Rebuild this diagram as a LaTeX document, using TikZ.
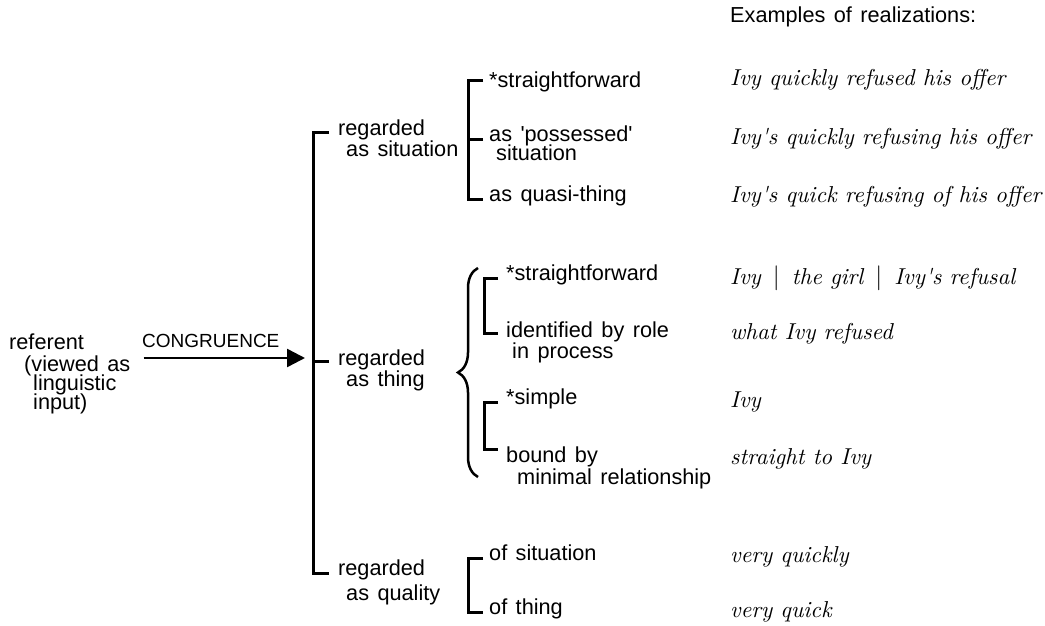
\documentclass[tikz,border=0pt]{standalone}
\usepackage{fontspec}
\newfontfamily\lab{Liberation Sans}[WordSpace=1.4]
\newfontfamily\exfont{lmroman10-italic.otf}
\usetikzlibrary{arrows.meta,decorations.pathreplacing,calc}

% stacked lines with a fixed baseline distance (first argument, in pt)
\newcommand\stk[2]{\vtop{\baselineskip=#1pt\lineskiplimit=-100pt\lineskip=0pt #2}}
\newcommand\lline[2][0]{\hbox{\kern#1pt #2}}

\begin{document}
\begin{tikzpicture}[x=1pt,y=-1pt,
  lbl/.style={anchor=mid west, inner sep=0pt, font=\lab\fontsize{21.7}{24}\selectfont},
  ex/.style={anchor=mid west, inner sep=0pt, font=\exfont\fontsize{23}{28}\selectfont},
  brk/.style={line width=3pt, line cap=butt, line join=miter},
  arr/.style={line width=2.5pt, -{Triangle[length=18pt,width=18pt]}},
  brc/.style={line width=2.5pt, decorate, decoration={brace, amplitude=20pt}}
]
\useasboundingbox (0,0) rectangle (1045,626);

% input side
\node[lbl] (ref) at (9,347.5) {\stk{19.2}{\lline{referent}\vskip2.3pt\lline[15]{(viewed as}\lline[24]{linguistic}\lline[24]{input)}}};
\node[lbl, font=\lab\fontsize{19}{22}\selectfont] (cong) at (142,345) {CONGRUENCE};

% first-level choices
\node[lbl] (sit) at (338,133) {\stk{21}{\lline{regarded}\lline[8]{as situation}}};
\node[lbl] (thg) at (338,363) {\stk{21}{\lline{regarded}\lline[8]{as thing}}};
\node[lbl] (qal) at (338,573) {\stk{25}{\lline{regarded}\lline[8]{as quality}}};

% situation options
\node[lbl] (s1) at (489,85) {*straightforward};
\node[lbl] (s2) at (489,139) {\stk{19}{\lline{as \textquotesingle possessed\textquotesingle}\lline[7]{situation}}};
\node[lbl] (s3) at (489,199) {as quasi-thing};

% thing options
\node[lbl] (t1) at (506,278) {*straightforward};
\node[lbl] (t2) at (506,335) {\stk{21}{\lline{identified by role}\lline[6]{in process}}};
\node[lbl] (t3) at (506,402) {*simple};
\node[lbl] (t4) at (506,460) {\stk{22}{\lline{bound by}\lline[11]{minimal relationship}}};

% quality options
\node[lbl] (q1) at (489,558) {of situation};
\node[lbl] (q2) at (489,612) {of thing};

% realizations
\node[lbl] (exh) at (730,20) {Examples of realizations:};
\node[ex] (e1) at (730,83) {Ivy quickly refused his offer};
\node[ex] (e2) at (730,142) {Ivy\textquotesingle s quickly refusing his offer};
\node[ex] (e3) at (730,200) {Ivy\textquotesingle s quick refusing of his offer};
\node[ex] (e4) at (730,282) {Ivy \,$|$\, the girl \,$|$\, Ivy\textquotesingle s refusal};
\node[ex] (e5) at (730,337) {what Ivy refused};
\node[ex] (e6) at (730,405) {Ivy};
\node[ex] (e7) at (730,462) {straight to Ivy};
\node[ex] (e8) at (730,560) {very quickly};
\node[ex] (e9) at (730,615) {very quick};

% congruence arrow into the main bracket
\coordinate (hub) at (313,358);
\draw[arr] ([xshift=13pt]ref.east |- hub) -- ([xshift=-8pt]hub);

% main bracket
\draw[brk] ([xshift=-9pt,yshift=1pt]sit.mid west) -- ++(-16,0) |- ([xshift=-9pt]qal.mid west);
\draw[brk] ([xshift=-9pt,yshift=2pt]thg.mid west) -- ++(-16,0);

% situation bracket
\draw[brk] ([xshift=-6pt,yshift=4pt]s1.mid west) -- ++(-15,0) |- ([xshift=-6pt]s3.mid west);
\draw[brk] ([xshift=-6pt]s2.mid west) -- ++(-15,0);

% thing brace and its two brackets
\coordinate (bt) at ([xshift=-28pt,yshift=10pt]t1.mid west);
\coordinate (bb) at ([xshift=-28pt,yshift=-17pt]t4.mid west);
\draw[brc] (bb) -- (bt);
\draw[brk] ([xshift=-8pt]t1.mid west) -- ++(-14,0) |- ([xshift=-8pt,yshift=2pt]t2.mid west);
\draw[brk] ([xshift=-8pt]t3.mid west) -- ++(-14,0) |- ([xshift=-8pt,yshift=11pt]t4.mid west);

% quality bracket
\draw[brk] ([xshift=-6pt]q1.mid west) -- ++(-15,0) |- ([xshift=-6pt]q2.mid west);
\end{tikzpicture}
\end{document}
